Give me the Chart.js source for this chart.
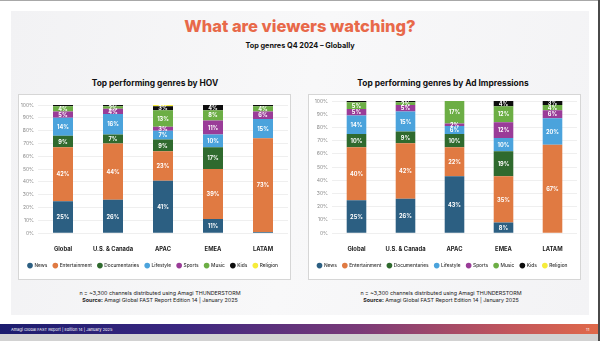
<!DOCTYPE html>
<html>
<head>
<meta charset="utf-8">
<script src="https://cdn.jsdelivr.net/npm/chart.js"></script>
<style>
  body { margin: 0; width: 600px; height: 341px; overflow: hidden; background: #fff; font-family: Inter, "Open Sans", sans-serif; position: relative; }
  .abs { position: absolute; }
  #topline { left: 0; top: 0; width: 600px; height: 1px; background: #a8a8a8; }
  #rightline { left: 598px; top: 0; width: 2px; height: 341px; background: #4a4a4a; }
  #panel { left: 11px; top: 11px; width: 578px; height: 304px; background: linear-gradient(100deg, #f2f2f4, #f8f8f9 50%, #f3f3f5); }
  #title { left: 0; top: 16px; width: 600px; text-align: center; font-size: 16.5px; font-weight: 800; color: #e8694a; }
  #subtitle { left: 0; top: 41px; width: 600px; text-align: center; font-size: 7.3px; font-weight: 700; color: #111; }
  .ctitle { top: 78px; width: 280px; text-align: center; font-size: 8.4px; font-weight: 700; color: #111; }
  .card { top: 94px; width: 273px; height: 186px; background: #fff; border: 1px solid #d6d6d6; box-sizing: border-box; }
  .note { top: 290px; width: 290px; text-align: center; font-size: 5.4px; line-height: 7px; color: #222; }
  .note b { font-weight: 700; }
  #footer { left: 0; top: 324px; width: 598px; height: 10px; background: linear-gradient(90deg, #1c1c6e, #3a2780 30%, #7a3a78 60%, #c1555c 85%, #e0694a); }
  #footer span { position: absolute; top: 2.5px; font-size: 4px; color: #fff; }
  #bottomstrip { left: 0; top: 334px; width: 600px; height: 7px; background: #d2d2d2; }
  canvas { position: absolute; }
</style>
</head>
<body>
<div class="abs" id="topline"></div>
<div class="abs" id="panel"></div>
<div class="abs" id="title">What are viewers watching?</div>
<div class="abs" id="subtitle">Top genres Q4 2024 – Globally</div>

<div class="abs ctitle" style="left:15px">Top performing genres by HOV</div>
<div class="abs ctitle" style="left:303px">Top performing genres by Ad Impressions</div>

<div class="abs card" style="left:18px"></div>
<div class="abs card" style="left:308px"></div>
<canvas id="hovChart" width="274" height="187" style="left:18px; top:94px"></canvas>
<canvas id="adChart" width="274" height="187" style="left:308px; top:94px"></canvas>

<div class="abs note" style="left:15px">n = ~3,300 channels distributed using Amagi THUNDERSTORM<br><b>Source:</b> Amagi Global FAST Report Edition 14 | January 2025</div>
<div class="abs note" style="left:296px">n = ~3,300 channels distributed using Amagi THUNDERSTORM<br><b>Source:</b> Amagi Global FAST Report Edition 14 | January 2025</div>

<div class="abs" id="footer"><span style="left:11px">Amagi Global FAST Report | Edition 14 | January 2025</span><span style="left:586px">11</span></div>
<div class="abs" id="bottomstrip"></div>
<div class="abs" id="rightline"></div>

<script>
// categories and genres
const regions = ['Global', 'U.S. & Canada', 'APAC', 'EMEA', 'LATAM'];
const genres = ['News', 'Entertainment', 'Documentaries', 'Lifestyle', 'Sports', 'Music', 'Kids', 'Religion'];
const genreColors = ['#2c5f82', '#e07a42', '#2f6a2e', '#4ba3dc', '#9a3c98', '#6cae45', '#0d0d0d', '#f6ec3a'];
const yTicks = [0, 10, 20, 30, 40, 50, 60, 70, 80, 90, 100];

// share of HOV (%) per genre, by region
const hovNews          = [25, 26, 41, 11, 1];
const hovEntertainment = [42, 44, 23, 39, 73];
const hovDocumentaries = [9, 7, 9, 17, 0];
const hovLifestyle     = [14, 16, 7, 10, 15];
const hovSports        = [5, 4, 3, 11, 6];
const hovMusic         = [4, 2, 13, 8, 4];
const hovKids          = [1, 1, 3, 4, 1];
const hovReligion      = [0, 0, 1, 0, 0];

// share of ad impressions (%) per genre, by region
const adNews          = [25, 26, 43, 8, 0];
const adEntertainment = [40, 42, 22, 35, 67];
const adDocumentaries = [10, 9, 10, 19, 0];
const adLifestyle     = [14, 15, 6, 10, 20];
const adSports        = [5, 5, 2, 12, 6];
const adMusic         = [5, 2, 17, 12, 4];
const adKids          = [1, 1, 1, 4, 3];
const adReligion      = [0, 0, 0, 0, 0];

const hovSeries = [hovNews, hovEntertainment, hovDocumentaries, hovLifestyle, hovSports, hovMusic, hovKids, hovReligion];
const adSeries = [adNews, adEntertainment, adDocumentaries, adLifestyle, adSports, adMusic, adKids, adReligion];

const FONT = 'Inter, "Open Sans", sans-serif';

// white % labels in the middle of each segment
const segmentLabels = {
    id: 'segmentLabels',
    afterDatasetsDraw(chart) {
        const ctx = chart.ctx;
        ctx.save();
        ctx.font = '700 5.6px ' + FONT;
        ctx.fillStyle = '#fff';
        ctx.textAlign = 'center';
        ctx.textBaseline = 'middle';
        chart.data.datasets.forEach((ds, i) => {
            const meta = chart.getDatasetMeta(i);
            meta.data.forEach((bar, j) => {
                const v = ds.data[j];
                if (v < 2) return;
                ctx.fillText(v + '%', bar.x, (bar.y + bar.base) / 2 + 0.5);
            });
        });
        ctx.restore();
    }
};

function makeChart(id, series, axisWidth, pad) {
    const datasets = genres.map((g, i) => ({
        label: g,
        data: series[i],
        backgroundColor: genreColors[i],
        borderWidth: 0,
        barPercentage: 0.8,
        categoryPercentage: 0.5
    }));
    return new Chart(document.getElementById(id), {
        type: 'bar',
        data: { labels: regions, datasets: datasets },
        plugins: [segmentLabels],
        options: {
            responsive: false,
            animation: false,
            devicePixelRatio: 1,
            layout: { padding: pad },
            plugins: {
                tooltip: { enabled: false },
                legend: {
                    position: 'bottom',
                    labels: {
                        usePointStyle: true,
                        pointStyle: 'circle',
                        boxWidth: 4,
                        boxHeight: 4,
                        padding: 6,
                        color: '#333',
                        font: { size: 4.8, family: FONT, weight: '500' }
                    }
                }
            },
            scales: {
                x: {
                    stacked: true,
                    grid: { display: false },
                    border: { display: false },
                    ticks: { color: '#222', padding: 5, font: { size: 5.8, weight: '700', family: FONT } },
                    afterFit: s => { s.height = 24; }
                },
                y: {
                    stacked: true,
                    min: 0,
                    max: 100,
                    afterBuildTicks: s => { s.ticks = yTicks.map(v => ({ value: v })); },
                    ticks: { color: '#8a8a8a', padding: 4, callback: v => v + '%', font: { size: 5, family: FONT } },
                    grid: { color: '#ebebeb', lineWidth: 0.8, drawTicks: false },
                    border: { display: false },
                    afterFit: s => { s.width = axisWidth; }
                }
            }
        }
    });
}

makeChart('hovChart', hovSeries, 20, { top: 11, right: 4, left: 0, bottom: 3 });
makeChart('adChart', adSeries, 24, { top: 7, right: 5, left: 0, bottom: 3 });
</script>
</body>
</html>
